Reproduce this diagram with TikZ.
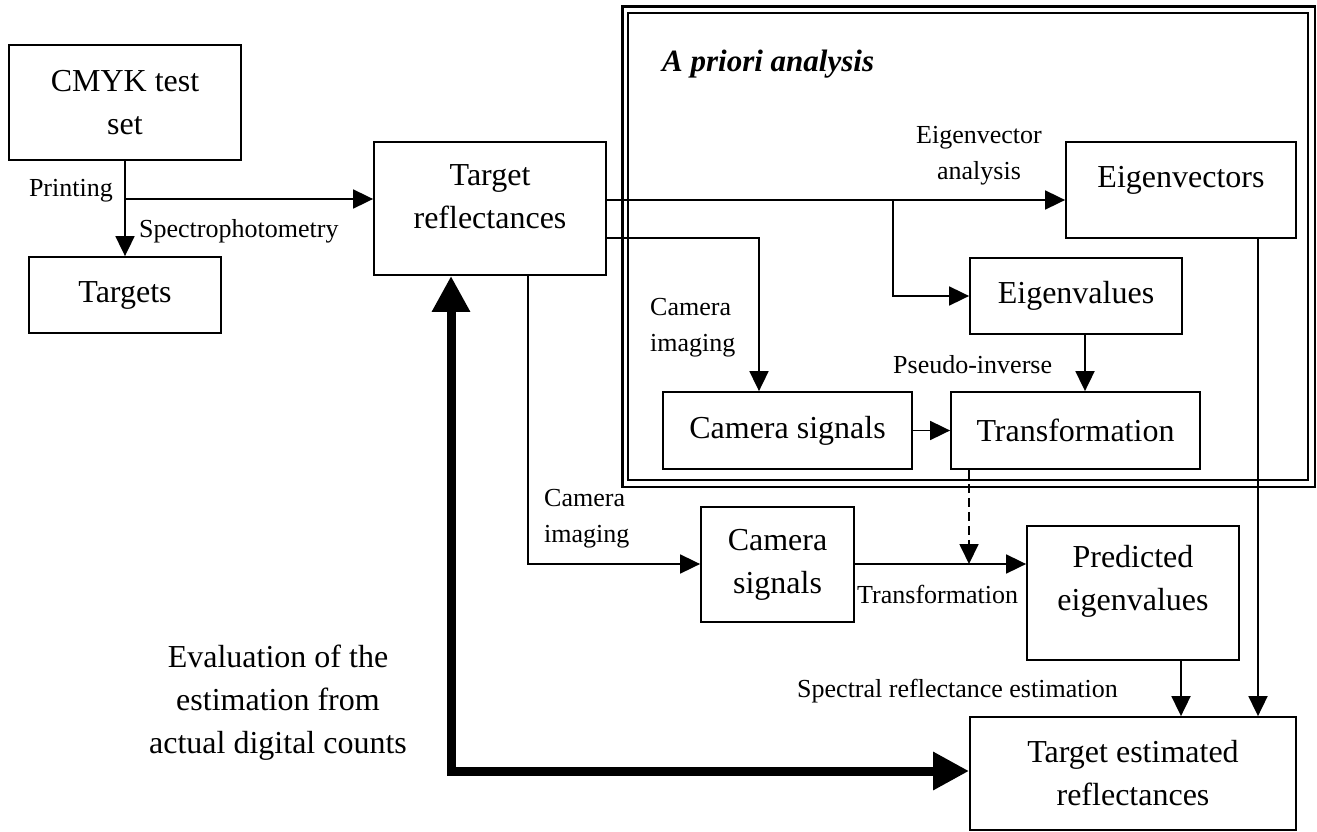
\documentclass[tikz,border=0pt]{standalone}
\usepackage{fontspec}
\setmainfont{Liberation Serif}
\usetikzlibrary{arrows.meta}
\tikzset{
  box/.style={draw, line width=1.8pt, inner sep=0pt, align=center,
    font=\fontsize{32}{43}\selectfont},
  lbl/.style={inner sep=0pt, font=\fontsize{26}{36}\selectfont},
  link/.style={line width=1.8pt},
  arr/.style={line width=1.8pt, -{Triangle[length=20pt,width=19pt]}},
  bigarr/.style={line width=9pt,
    {Triangle[length=36pt,width=36pt]}-{Triangle[length=36pt,width=36pt]}},
}
\begin{document}
\begin{tikzpicture}[x=1pt,y=-1pt]
\useasboundingbox (0,0) rectangle (1317,832);

% frame of the a priori analysis
\draw[line width=2.5pt] (622.5,6.5) rectangle (1315,487);
\draw[line width=1.5pt] (628,13) rectangle (1308,480);
\node[inner sep=0pt, anchor=base west,
  font=\fontsize{31}{40}\selectfont\bfseries\itshape] (lapriori) at (662,72) {A priori analysis};

% boxes
\node[box, minimum width=232pt, minimum height=115pt] (cmyk) at (125,102.5) {CMYK test\\set};
\node[box, minimum width=192pt, minimum height=76pt] (targets) at (125,295) {Targets};
\node[box, minimum width=232pt, minimum height=133pt] (trefl) at (490,208.5) {Target\\reflectances\\[-20pt]};
\node[box, minimum width=230pt, minimum height=96pt, text height=22pt, text depth=28pt] (eigvec) at (1181,190) {Eigenvectors};
\node[box, minimum width=212pt, minimum height=76pt] (eigval) at (1076,296) {Eigenvalues};
\node[box, minimum width=249pt, minimum height=77pt] (camsig) at (787.5,430.5) {Camera signals};
\node[box, minimum width=249pt, minimum height=77pt] (tf) at (1075.5,430.5) {Transformation};
\node[box, minimum width=153pt, minimum height=115pt] (camsig2) at (777.5,564.5) {Camera\\signals};
\node[box, minimum width=212pt, minimum height=134pt] (pred) at (1133,593) {Predicted\\eigenvalues\\[-12pt]};
\node[box, minimum width=326pt, minimum height=113pt] (testim) at (1133,773.5) {Target estimated\\reflectances};

% connectors
\coordinate (pj) at (125,199);
\draw[arr] (cmyk) -- (targets);
\draw[arr] (pj) -- (pj -| trefl.west);
\coordinate (ev) at (893,200);
\draw[arr] (ev -| trefl.east) -- (ev -| eigvec.west);
\draw[arr] (ev) |- (eigval.west);
\coordinate (ci) at (759,238);
\draw[arr] (ci -| trefl.east) -- (ci) -- (ci |- camsig.north);
\coordinate (pi) at (1085,0);
\draw[arr] (pi |- eigval.south) -- (pi |- tf.north);
\draw[arr] (camsig) -- (tf);
\coordinate (vx) at (1258,0);
\draw[arr] (vx |- eigvec.south) -- (vx |- testim.north);
\coordinate (cj) at (528,564);
\draw[arr] (cj |- trefl.south) -- (cj) -- (cj -| camsig2.west);
\coordinate (tj) at (969,564);
\draw[arr] (tj -| camsig2.east) -- (tj -| pred.west);
\draw[arr, dash pattern=on 9pt off 5pt] (tj |- tf.south) -- (tj);
\coordinate (px) at (1181,0);
\draw[arr] (px |- pred.south) -- (px |- testim.north);
\coordinate (ec) at (451,771);
\draw[bigarr] (ec |- trefl.south) -- (ec) -- (ec -| testim.west);

% labels (multi-line ones are placed by the baseline of their last line)
\node[lbl, anchor=base east] (lprint) at (113,196) {Printing};
\node[lbl, anchor=base west] (lspec) at (139,237) {Spectrophotometry};
\node[lbl, anchor=base, align=center] (leva) at (979,179) {Eigenvector\\analysis};
\node[lbl, anchor=base west, align=left] (lcam1) at (650,351) {Camera\\imaging};
\node[lbl, anchor=base west] (lpseudo) at (893,373) {Pseudo-inverse};
\node[lbl, anchor=base west, align=left] (lcam2) at (544,542) {Camera\\imaging};
\node[lbl, anchor=base west] (ltrans) at (857,603) {Transformation};
\node[lbl, anchor=base west] (lsre) at (797,697) {Spectral reflectance estimation};
\node[inner sep=0pt, anchor=base, align=center, font=\fontsize{32}{43}\selectfont] (leval) at (278,753)
  {Evaluation of the\\estimation from\\actual digital counts};
\end{tikzpicture}
\end{document}
